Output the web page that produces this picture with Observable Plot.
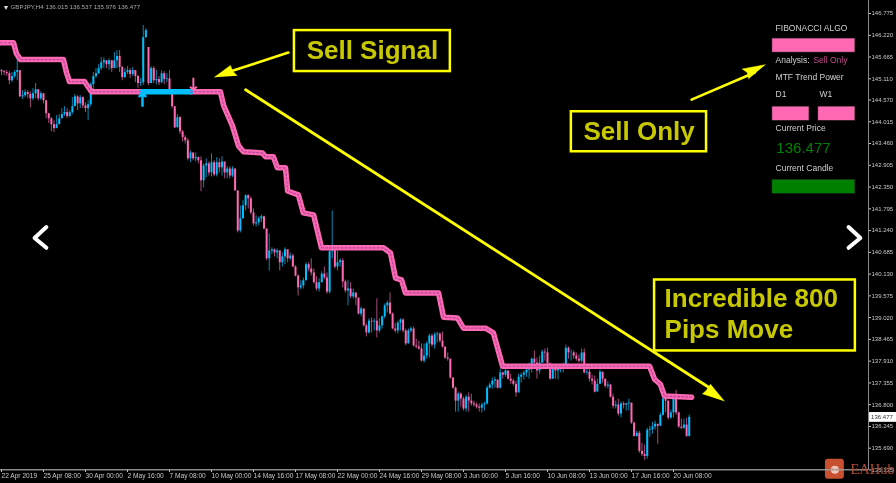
<!DOCTYPE html>
<html><head><meta charset="utf-8">
<style>html,body{margin:0;padding:0;background:#000;overflow:hidden}svg{display:block;filter:blur(.3px)}</style>
<script src="https://cdn.jsdelivr.net/npm/d3@7"></script>
<script src="https://cdn.jsdelivr.net/npm/@observablehq/plot@0.6"></script>
</head><body><div id="chart"></div>
<script>
const closes=[145.29,145.27,145.24,145.06,145.17,145.27,145.32,144.65,144.68,144.76,
144.71,144.60,144.73,144.83,144.60,144.73,144.55,144.22,144.09,143.94,
143.84,143.94,144.09,144.20,144.25,144.15,144.25,144.40,144.65,144.47,
144.63,144.42,144.35,144.45,144.96,145.17,145.24,145.37,145.52,145.57,
145.47,145.57,145.37,145.57,145.68,145.40,145.14,145.27,145.32,145.22,
145.32,145.17,144.99,145.01,146.16,146.34,144.99,145.37,145.06,145.09,
145.01,145.24,145.09,145.11,144.81,144.40,143.86,144.12,143.76,143.61,
143.53,143.07,143.22,143.07,143.10,143.02,142.51,142.89,142.94,142.71,
142.97,142.66,142.97,142.84,142.99,142.71,142.81,142.63,142.81,142.25,
141.23,141.54,141.87,142.13,142.05,141.69,141.41,141.44,141.54,141.59,
141.28,140.52,140.72,140.75,140.67,140.72,140.42,140.57,140.75,140.52,
140.59,140.31,140.08,139.78,139.83,139.96,140.37,140.26,140.16,139.91,
139.75,139.91,140.13,140.03,139.67,140.70,140.80,140.31,140.42,140.47,
139.93,139.70,139.75,139.55,139.65,139.52,139.11,139.24,138.81,138.63,
138.93,138.91,138.93,138.68,138.81,139.04,139.32,139.39,139.11,138.73,
138.68,138.88,138.96,138.68,138.35,138.68,138.73,138.30,138.27,138.22,
137.91,138.04,138.35,138.55,138.32,138.58,138.60,138.42,138.27,137.99,
137.96,137.48,137.22,136.89,137.07,136.94,136.69,136.99,136.89,136.82,
136.79,136.74,136.71,136.79,136.82,137.22,137.30,137.40,137.43,137.22,
137.61,137.55,137.66,137.45,137.40,137.32,137.10,137.50,137.55,137.61,
137.68,137.76,137.96,137.86,137.66,137.86,138.14,138.12,137.84,137.45,
137.71,137.66,137.71,137.73,137.78,138.24,138.12,138.12,138.04,137.96,
137.91,138.12,137.61,137.63,137.45,137.40,137.12,137.32,137.63,137.45,
137.27,137.30,136.99,136.76,136.79,136.56,136.82,136.79,136.82,136.84,
136.33,135.99,136.07,135.61,135.53,135.48,136.15,136.17,136.23,136.30,
136.25,136.53,136.94,136.89,136.46,136.59,136.97,136.59,136.23,136.20,
136.28,135.99,136.477];
const highs=[145.35,145.32,145.32,145.29,145.27,145.32,145.62,145.12,144.81,144.83,
144.81,144.78,144.86,144.99,144.83,144.78,144.73,144.55,144.22,144.12,
144.04,144.17,144.20,144.35,144.40,144.35,144.30,144.63,144.71,144.68,
144.68,144.65,144.50,144.55,145.01,145.27,145.37,145.47,145.65,145.65,
145.57,145.62,145.57,145.78,145.83,145.83,145.42,145.37,145.42,145.37,
145.40,145.32,145.19,145.12,146.47,146.39,145.91,145.42,145.42,145.32,
145.17,145.32,145.29,145.24,145.32,144.76,144.35,144.20,144.15,143.79,
143.66,143.58,143.27,143.20,143.22,143.12,143.12,142.94,143.07,142.99,
143.20,143.02,143.10,143.07,143.12,142.89,142.87,142.87,142.87,142.81,
142.25,141.87,142.00,142.15,142.15,142.10,141.79,141.61,141.59,141.64,
141.61,141.28,141.15,140.80,140.77,140.77,140.72,140.67,140.80,140.72,
140.67,140.64,140.34,140.11,139.96,140.03,140.42,140.42,140.52,140.26,
140.06,140.01,140.19,140.31,140.16,140.80,141.74,140.85,140.72,140.52,
140.52,139.98,139.96,139.91,139.75,139.57,139.50,139.29,139.24,138.86,
138.99,139.01,138.99,139.50,138.99,139.06,139.37,139.44,139.65,139.14,
138.88,138.93,138.99,138.99,138.73,138.73,138.78,138.78,138.47,138.42,
138.35,138.35,138.40,138.60,138.60,138.63,138.65,138.63,138.65,138.27,
138.12,137.96,137.48,137.25,137.12,137.10,136.99,137.04,137.10,137.07,
136.89,136.84,136.82,136.84,136.87,137.27,137.35,137.48,137.50,137.40,
137.71,137.63,137.71,137.66,137.58,137.45,137.40,137.58,137.61,137.66,
137.73,137.86,137.99,138.17,137.99,138.04,138.19,138.22,138.24,137.86,
137.79,137.81,137.76,137.81,137.86,138.32,138.27,138.19,138.17,138.12,
138.07,138.22,138.22,137.71,137.71,137.55,137.53,137.45,137.68,137.61,
137.45,137.38,137.32,137.07,136.89,136.94,136.87,136.87,136.84,136.94,
136.82,136.35,136.12,136.12,135.82,135.77,136.20,136.25,136.35,136.38,
136.30,136.59,136.97,136.97,136.89,136.66,137.02,137.17,136.61,136.43,
136.43,136.46,136.537];
const lows=[145.19,145.19,145.17,144.96,145.01,145.12,145.06,144.63,144.58,144.63,
144.60,144.37,144.55,144.60,144.55,144.55,144.47,144.09,143.97,143.76,
143.74,143.84,143.94,144.09,144.15,144.09,144.12,144.20,144.42,144.30,
144.35,144.35,144.25,144.04,144.40,144.81,145.12,145.22,145.32,145.37,
145.37,145.32,145.27,145.47,145.37,145.27,145.06,145.12,145.22,145.12,
145.17,145.01,144.86,144.91,144.94,146.14,144.94,144.99,144.99,144.96,
144.94,144.99,144.96,145.01,144.71,144.35,143.84,143.86,143.69,143.50,
143.45,143.02,142.97,143.02,142.99,142.94,142.23,142.33,142.59,142.63,
142.61,142.61,142.61,142.71,142.63,142.56,142.56,142.56,142.59,142.25,
141.18,141.18,141.54,141.74,141.79,141.64,141.36,141.33,141.36,141.44,
141.26,140.47,140.21,140.62,140.57,140.52,140.21,140.31,140.37,140.42,
140.47,140.29,140.06,139.57,139.73,139.75,139.96,140.19,140.08,139.88,
139.70,139.67,139.91,139.98,139.62,139.62,140.52,140.26,140.21,140.31,
139.78,139.65,139.32,139.50,139.50,139.32,139.09,139.04,138.78,138.53,
138.60,138.63,138.68,138.50,138.63,138.73,138.99,139.14,139.09,138.71,
138.63,138.60,138.68,138.63,138.30,138.35,138.63,138.27,138.22,138.19,
137.89,137.86,137.96,137.99,138.27,138.22,138.37,138.37,138.24,137.96,
137.91,137.45,137.20,136.61,136.61,136.74,136.64,136.61,136.61,136.76,
136.74,136.69,136.61,136.59,136.64,136.79,137.20,137.20,137.22,137.20,
137.20,137.45,137.50,137.43,137.32,137.27,136.99,137.10,137.35,137.43,
137.50,137.45,137.61,137.81,137.45,137.58,137.86,137.91,137.76,137.43,
137.45,137.45,137.43,137.61,137.61,137.81,137.96,137.91,137.96,137.91,
137.86,137.86,137.58,137.55,137.38,137.30,137.10,137.20,137.32,137.35,
137.22,137.20,136.97,136.69,136.69,136.51,136.46,136.69,136.64,136.64,
136.30,135.97,135.97,135.56,135.48,135.38,135.41,135.97,136.05,136.15,
135.79,136.25,136.51,136.59,136.41,136.43,136.46,136.53,136.20,136.17,
136.17,135.97,135.976];
const firstOpen=145.32, gapOpenBar=56, gapOpen=145.91;

const trendBars=[-0.38,4.57,5.71,7.24,23.6,24.76,25.9,31.6,34.3,53.7];
const trendPrices=[146.03,146.03,145.75,145.60,145.60,145.27,145.04,145.04,144.78,144.78];
const buyBars=[53.7,72];
const buyPrices=[144.78,144.78];
const sellBars=[72,83.4,84.6,86.5,88,90.3,92.2,99.4,100.6,103.6,105.1,108.2,109,113.1,115,118.9,121.9,145.5,148.2,150.1,152.4,153.9,166.5,168.4,173.7,176,184.4,187.4,190.9,246.9,248.8,251,252.6,262.9];
const sellPrices=[144.78,144.78,144.43,144.14,143.91,143.40,143.25,143.22,143.12,143.12,142.84,142.84,142.25,142.15,141.69,141.64,140.80,140.80,140.67,140.03,139.98,139.65,139.65,139.03,139.01,138.75,138.75,138.63,137.78,137.78,137.45,137.32,137.02,136.99];

const dateLabels=["22 Apr 2019","25 Apr 08:00","30 Apr 00:00","2 May 16:00","7 May 08:00","10 May 00:00","14 May 16:00","17 May 08:00","22 May 00:00","24 May 16:00","29 May 08:00","3 Jun 00:00","5 Jun 16:00","10 Jun 08:00","13 Jun 00:00","17 Jun 16:00","20 Jun 08:00"];
const dateBars=dateLabels.map((_,i)=>i*16);
const priceTicks=[146.775,146.220,145.665,145.110,144.570,144.015,143.460,142.905,142.350,141.795,141.240,140.685,140.130,139.575,139.020,138.465,137.910,137.355,136.800,136.245,135.690,135.135];

const BLUE="#00BFFF",PINK="#FF69B4",YEL="#FFFF00",OLIVE="#c8c800",GREEN="#008000",GREY="#c8c8c8";
const SANS="Liberation Sans, Arial, sans-serif";

const candles=closes.map((c,i)=>{
  const o=i===0?firstOpen:i===gapOpenBar?gapOpen:closes[i-1];
  return {i,o,c,h:highs[i],l:lows[i],up:c>=o};
});
const pts=(xs,ys)=>xs.map((x,k)=>({x,y:ys[k]}));
const trendA=pts(trendBars,trendPrices), trendB=pts(sellBars,sellPrices), trendBuy=pts(buyBars,buyPrices);

const box=(x1,x2,y1,y2)=>Plot.rect([{x1,x2,y1,y2}],{x1:"x1",x2:"x2",y1:"y1",y2:"y2",stroke:YEL,strokeWidth:2.5,fill:"#000"});
const fillBox=(x1,x2,y1,y2,fill)=>Plot.rect([{x1,x2,y1,y2}],{x1:"x1",x2:"x2",y1:"y1",y2:"y2",fill,stroke:"#222",strokeWidth:.5});
const big=(t,x,y,anchor)=>Plot.text([t],{x:()=>x,y:()=>y,text:d=>d,fill:OLIVE,fontSize:26,fontWeight:"bold",fontFamily:SANS,textAnchor:anchor});
const small=(t,x,y,o={})=>Plot.text([t],{x:()=>x,y:()=>y,text:d=>d,fill:"#cfcfcf",fontSize:8.5,fontFamily:SANS,textAnchor:"start",...o});
const arrow=(shaft,head,w)=>[
  Plot.line(shaft,{x:"x",y:"y",stroke:YEL,strokeWidth:w}),
  Plot.line(head,{x:"x",y:"y",fill:YEL,stroke:YEL,strokeWidth:.5})
];
const trendLine=(d,color)=>[
  Plot.line(d,{x:"x",y:"y",stroke:color,strokeWidth:5.5,curve:"linear",strokeLinejoin:"round"})
];
const trendDots=d=>Plot.line(d,{x:"x",y:"y",stroke:"#b3479a",strokeWidth:1.2,strokeDasharray:"2,2"});

const plot=Plot.plot({
  width:896,height:483,marginLeft:0,marginRight:28,marginTop:0,marginBottom:14,
  style:{background:"#000",fontFamily:SANS},
  x:{type:"linear",domain:[-0.381,330.3],axis:null},
  y:{domain:[135.147,147.107],axis:null},
  marks:[
    Plot.ruleX(candles,{x:"i",y1:"l",y2:"h",stroke:d=>d.up?"#0a86b0":"#a84a7c",strokeWidth:1}),
    Plot.ruleX(candles,{x:"i",y1:"o",y2:"c",stroke:d=>d.up?BLUE:PINK,strokeWidth:2}),
    ...trendLine(trendA,PINK),...trendLine(trendB,PINK),...trendLine(trendBuy,BLUE),
    trendDots(trendA),trendDots(trendB),
    Plot.arrow([{x:73.1,a:145.115,b:144.834}],{x:"x",y1:"a",y2:"b",stroke:PINK,strokeWidth:2,headLength:8,headAngle:100,bend:0}),
    Plot.arrow([{x:53.7,a:144.425,b:144.73}],{x:"x",y1:"a",y2:"b",stroke:BLUE,strokeWidth:2.5,headLength:8,headAngle:100,bend:0}),
    Plot.frame({anchor:"right",stroke:"#8a8a8a"}),
    Plot.axisX({ticks:dateBars,tickFormat:d=>dateLabels[d/16],anchor:"bottom",tickSize:3,tickPadding:1,fontSize:6.6,textAnchor:"start",color:GREY,fontFamily:SANS}),
    Plot.axisY({ticks:priceTicks,tickFormat:d3.format(".3f"),anchor:"right",tickSize:2,tickPadding:1,fontSize:6,color:GREY,fontFamily:SANS}),
    Plot.text(["GBPJPY,H4 136.015 136.537 135.976 136.477"],{x:()=>3.43,y:()=>146.93,text:d=>d,fill:"#a8a8a8",fontSize:6.2,fontFamily:SANS,textAnchor:"start"}),
    Plot.text(["\u25BE"],{x:()=>1,y:()=>146.93,text:d=>d,fill:"#ddd",fontSize:8,textAnchor:"start"}),
    // current price tag
    Plot.rect([0],{x1:()=>330.7,x2:()=>341,y1:()=>136.6,y2:()=>136.35,fill:"#fff"}),
    Plot.text(["136.477"],{x:()=>331.3,y:()=>136.477,text:d=>d,fill:"#333",fontSize:6,fontFamily:SANS,textAnchor:"start"}),
    // navigation chevrons
    Plot.line(pts([17.1,12.6,17.1],[141.33,141.05,140.80]),{x:"x",y:"y",stroke:"#fff",strokeWidth:4}),
    Plot.line(pts([322.7,327.2,322.7],[141.33,141.05,140.80]),{x:"x",y:"y",stroke:"#fff",strokeWidth:4}),
    // annotations
    ...arrow(pts([109.3,85],[145.78,145.25]),pts([81.1,87.2,88.1,89.8],[145.15,145.45,145.30,145.19]),2.6),
    ...arrow(pts([262.9,287],[144.58,145.27]),pts([291,282.2,284.1,284.7],[145.47,145.36,145.27,145.11]),2.6),
    ...arrow(pts([93,270],[144.83,137.22]),pts([275.4,270.1,268.6,267],[136.89,137.32,137.17,137.07]),2.8),
    box(111.6,171,146.34,145.295),big("Sell Signal",141.3,145.83,"middle"),
    box(217.1,268.6,144.27,143.25),big("Sell Only",242.9,143.76,"middle"),
    box(248.8,325.3,139.98,138.17),big("Incredible 800",252.6,139.5,"start"),big("Pips Move",252.6,138.72,"start"),
    // panel
    small("FIBONACCI ALGO",294.9,146.39),
    fillBox(293.7,325.3,146.136,145.779,PINK),
    small("Analysis:",294.9,145.575),small("Sell Only",309.3,145.575,{fill:"#c44a8e"}),
    small("MTF Trend Power",294.9,145.14),
    small("D1",294.9,144.706),small("W1",311.6,144.706),
    fillBox(293.7,307.8,144.40,144.04,PINK),fillBox(311.2,325.3,144.40,144.04,PINK),
    small("Current Price",294.9,143.84),
    small("136.477",295.2,143.35,{fill:GREEN,fontSize:15}),
    small("Current Candle",294.9,142.84),
    fillBox(293.7,325.3,142.535,142.177,GREEN),
    // watermark
    Plot.rect([0],{x1:()=>313.9,x2:()=>321.1,y1:()=>135.41,y2:()=>134.90,fill:"#c65030",rx:3}),
    Plot.dot([0],{x:()=>317.5,y:()=>135.14,r:4,fill:"#eec6b8"}),
    Plot.dot([0],{x:()=>316.7,y:()=>135.15,r:.9,fill:"#c65030"}),
    Plot.dot([0],{x:()=>318.3,y:()=>135.15,r:.9,fill:"#c65030"}),
    // axis base line, drawn across the watermark tile
    Plot.ruleY([135.14],{x1:()=>-0.381,x2:()=>330.3,stroke:"#a0a0a0",strokeWidth:1.5,strokeOpacity:.85}),
    Plot.text(["EAHub"],{x:()=>323.4,y:()=>135.14,text:d=>d,fill:"#b04a30",fontSize:14.5,fontFamily:"Liberation Serif, serif",textAnchor:"start"})
  ]
});
document.getElementById("chart").append(plot);
</script></body></html>
